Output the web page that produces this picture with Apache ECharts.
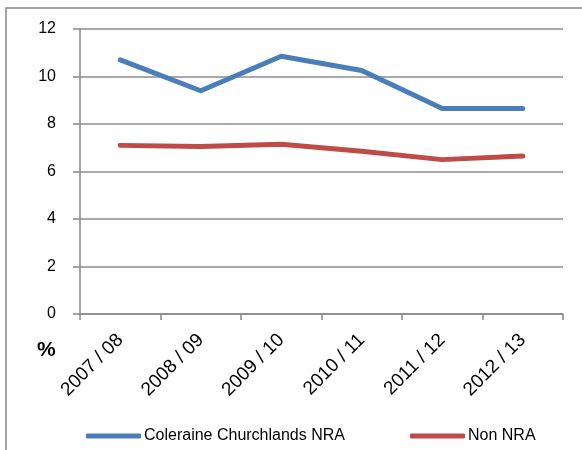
<!DOCTYPE html>
<html>
<head>
<meta charset="utf-8">
<script src="https://cdn.jsdelivr.net/npm/echarts@6/dist/echarts.min.js"></script>
<style>
  html, body { margin: 0; padding: 0; background: #fff; }
  #chart { width: 582px; height: 450px; }
</style>
</head>
<body>
<div id="chart"></div>
<script>
// categories and values
const years = ['2007 / 08', '2008 / 09', '2009 / 10', '2010 / 11', '2011 / 12', '2012 / 13'];
const colerane = [10.7, 9.4, 10.85, 10.25, 8.65, 8.65];
const nonNra = [7.1, 7.05, 7.15, 6.85, 6.5, 6.65];
const seriesNames = ['Coleraine Churchlands NRA', 'Non NRA'];

const font = 'Liberation Sans, Arial, sans-serif';
const chart = echarts.init(document.getElementById('chart'));

const legendBase = {
  top: 428,
  padding: 0,
  itemWidth: 55,
  itemHeight: 5,
  itemGap: 4,
  icon: 'roundRect',
  textStyle: { fontFamily: font, fontSize: 16, color: '#000', padding: [0, 0, 0, -2] }
};

const option = {
  animation: false,
  graphic: [
    {
      type: 'rect',
      shape: { x: 6, y: 8, width: 700, height: 600 },
      style: { fill: 'none', stroke: '#868686', lineWidth: 1.5 }
    },
    {
      type: 'text',
      left: 37,
      top: 340,
      style: { text: '%', fontFamily: font, fontSize: 21, fontWeight: 'bold', fill: '#000' }
    }
  ],
  legend: [
    Object.assign({ left: 86, data: [seriesNames[0]] }, legendBase),
    Object.assign({ left: 410, data: [seriesNames[1]] }, legendBase)
  ],
  grid: { left: 80, right: 19, top: 29, bottom: 136, containLabel: false },
  xAxis: {
    type: 'category',
    data: years,
    boundaryGap: true,
    axisLine: { lineStyle: { color: '#888', width: 1.5 } },
    axisTick: { show: true, length: 6, lineStyle: { color: '#888', width: 1.5 } },
    axisLabel: {
      interval: 0,
      rotate: 45,
      margin: 23,
      fontFamily: font,
      fontSize: 19,
      color: '#000'
    }
  },
  yAxis: {
    type: 'value',
    min: 0,
    max: 12,
    interval: 2,
    axisLine: { show: true, lineStyle: { color: '#888', width: 1.5 } },
    axisTick: { show: true, length: 7, lineStyle: { color: '#888', width: 1.5 } },
    splitLine: { lineStyle: { color: '#8c8c8c', width: 1.5 } },
    axisLabel: { fontFamily: font, fontSize: 16, color: '#000', margin: 24 }
  },
  series: [
    {
      name: seriesNames[0],
      type: 'line',
      data: colerane,
      symbol: 'none',
      itemStyle: { color: '#4a7ebb' },
      lineStyle: { color: '#4a7ebb', width: 5, cap: 'round', join: 'round' }
    },
    {
      name: seriesNames[1],
      type: 'line',
      data: nonNra,
      symbol: 'none',
      itemStyle: { color: '#be4b48' },
      lineStyle: { color: '#be4b48', width: 5, cap: 'round', join: 'round' }
    }
  ]
};

chart.setOption(option);
</script>
</body>
</html>
